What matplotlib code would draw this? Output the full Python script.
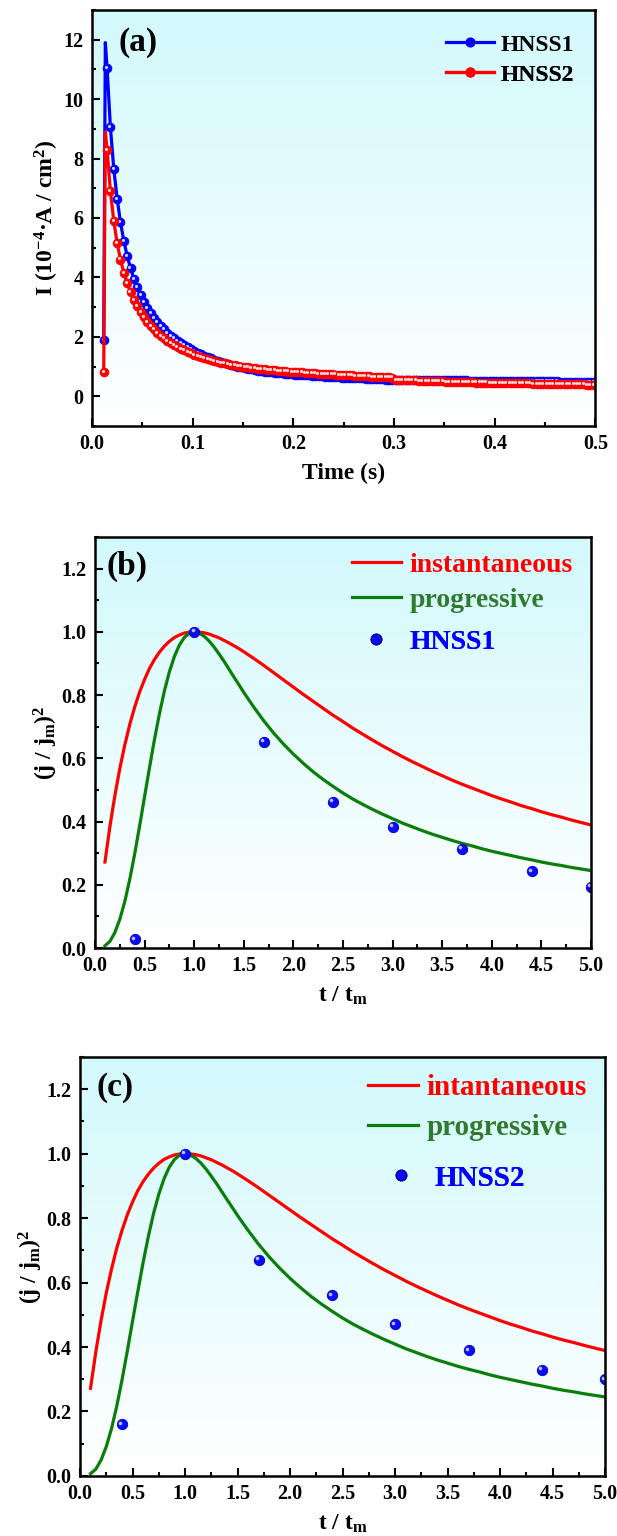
import numpy as np
import matplotlib
matplotlib.use('Agg')
import matplotlib.pyplot as plt
import matplotlib.transforms as mtransforms
from matplotlib.colors import LinearSegmentedColormap
from matplotlib.ticker import MultipleLocator
from matplotlib.lines import Line2D

plt.rcParams['font.family'] = ['Liberation Serif', 'DejaVu Serif']
plt.rcParams['font.weight'] = 'bold'
plt.rcParams['axes.labelweight'] = 'bold'
plt.rcParams['mathtext.fontset'] = 'custom'
plt.rcParams['mathtext.rm'] = 'Liberation Serif:bold'
plt.rcParams['mathtext.it'] = 'Liberation Serif:bold:italic'
plt.rcParams['mathtext.bf'] = 'Liberation Serif:bold'
plt.rcParams['mathtext.default'] = 'rm'

# ---- (a) chronoamperometry, sampled every 1/300 s ----
t_start = 0.0117
t_step = 1 / 300
i_hnss1 = [1.90, 11.05, 9.05, 7.65, 6.65, 5.85, 5.22, 4.72, 4.30, 3.95,
           3.66, 3.40, 3.18, 2.98, 2.80, 2.64, 2.50, 2.37, 2.25, 2.14,
           2.04, 1.95, 1.86, 1.78, 1.71, 1.64, 1.58, 1.52, 1.46, 1.41,
           1.36, 1.31, 1.27, 1.23, 1.19, 1.15, 1.11, 1.08, 1.05, 1.02,
           0.99, 0.97, 0.94, 0.92, 0.90, 0.88, 0.86, 0.85, 0.83, 0.82,
           0.80, 0.79, 0.78, 0.77, 0.76, 0.75, 0.74, 0.73, 0.72, 0.71,
           0.70, 0.70, 0.69, 0.68, 0.67, 0.67, 0.66, 0.65, 0.65, 0.64,
           0.64, 0.63, 0.63, 0.62, 0.61, 0.61, 0.60, 0.60, 0.59, 0.59,
           0.58, 0.58, 0.57, 0.57, 0.56, 0.56, 0.56, 0.54, 0.54, 0.54,
           0.54, 0.54, 0.54, 0.54, 0.54, 0.54, 0.54, 0.54, 0.54, 0.53,
           0.53, 0.53, 0.53, 0.53, 0.53, 0.53, 0.53, 0.53, 0.53, 0.52,
           0.52, 0.52, 0.52, 0.52, 0.52, 0.52, 0.52, 0.52, 0.51, 0.51,
           0.51, 0.51, 0.51, 0.51, 0.51, 0.51, 0.51, 0.50, 0.50, 0.50,
           0.50, 0.50, 0.50, 0.50, 0.50, 0.50, 0.49, 0.49, 0.49, 0.49,
           0.49, 0.49, 0.48, 0.48, 0.48, 0.48, 0.48]
i_hnss2 = [0.80, 8.30, 6.90, 5.90, 5.15, 4.60, 4.15, 3.80, 3.50, 3.24,
           3.02, 2.83, 2.66, 2.51, 2.37, 2.25, 2.14, 2.04, 1.95, 1.86,
           1.79, 1.72, 1.65, 1.59, 1.54, 1.49, 1.44, 1.40, 1.36, 1.32,
           1.28, 1.25, 1.22, 1.19, 1.16, 1.13, 1.11, 1.08, 1.06, 1.04,
           1.02, 1.00, 0.98, 0.97, 0.95, 0.94, 0.92, 0.91, 0.90, 0.89,
           0.88, 0.87, 0.86, 0.85, 0.84, 0.83, 0.82, 0.82, 0.81, 0.80,
           0.79, 0.78, 0.78, 0.77, 0.76, 0.76, 0.75, 0.74, 0.74, 0.73,
           0.72, 0.72, 0.71, 0.71, 0.70, 0.69, 0.69, 0.68, 0.68, 0.67,
           0.66, 0.66, 0.65, 0.65, 0.64, 0.64, 0.63, 0.55, 0.55, 0.54,
           0.54, 0.53, 0.53, 0.53, 0.52, 0.52, 0.52, 0.51, 0.51, 0.50,
           0.50, 0.50, 0.49, 0.49, 0.49, 0.48, 0.48, 0.48, 0.47, 0.47,
           0.47, 0.46, 0.46, 0.46, 0.46, 0.45, 0.45, 0.45, 0.45, 0.44,
           0.44, 0.44, 0.44, 0.43, 0.43, 0.43, 0.43, 0.43, 0.42, 0.42,
           0.42, 0.42, 0.42, 0.41, 0.41, 0.41, 0.41, 0.41, 0.40, 0.40,
           0.40, 0.40, 0.40, 0.40, 0.39, 0.39, 0.39]
# line overshoot right after the first point (no symbol there)
spike_t = 0.0133
spike_hnss1 = 11.9
spike_hnss2 = 8.9

# ---- (b), (c) Scharifker-Hills plots ----
tt_model = [0.10, 0.15, 0.20, 0.25, 0.30, 0.35, 0.40, 0.45, 0.50, 0.55,
            0.60, 0.65, 0.70, 0.75, 0.80, 0.85, 0.90, 0.95, 1.00, 1.05,
            1.10, 1.15, 1.20, 1.25, 1.30, 1.35, 1.40, 1.45, 1.50, 1.6,
            1.7, 1.8, 1.9, 2.0, 2.1, 2.2, 2.3, 2.4, 2.5, 2.6,
            2.7, 2.8, 2.9, 3.0, 3.1, 3.2, 3.3, 3.4, 3.5, 3.6,
            3.7, 3.8, 3.9, 4.0, 4.1, 4.2, 4.3, 4.4, 4.5, 4.6,
            4.7, 4.8, 4.9, 5.0]
instantaneous = [0.272, 0.384, 0.482, 0.568, 0.642, 0.707, 0.762, 0.810, 0.850, 0.885,
                 0.913, 0.936, 0.955, 0.970, 0.982, 0.990, 0.996, 0.999, 1.000, 0.999,
                 0.997, 0.993, 0.987, 0.981, 0.973, 0.965, 0.956, 0.947, 0.937, 0.916,
                 0.894, 0.871, 0.848, 0.825, 0.802, 0.780, 0.758, 0.736, 0.716, 0.695,
                 0.676, 0.657, 0.639, 0.622, 0.605, 0.589, 0.574, 0.559, 0.545, 0.531,
                 0.518, 0.506, 0.494, 0.482, 0.471, 0.461, 0.450, 0.441, 0.431, 0.422,
                 0.414, 0.405, 0.397, 0.389]
progressive = [0.007, 0.021, 0.049, 0.091, 0.147, 0.217, 0.298, 0.387, 0.480, 0.572,
               0.661, 0.742, 0.814, 0.874, 0.922, 0.958, 0.982, 0.996, 1.000, 0.996,
               0.986, 0.971, 0.952, 0.930, 0.907, 0.882, 0.857, 0.833, 0.808, 0.762,
               0.719, 0.680, 0.645, 0.613, 0.584, 0.557, 0.533, 0.511, 0.490, 0.471,
               0.454, 0.438, 0.423, 0.409, 0.395, 0.383, 0.371, 0.360, 0.350, 0.340,
               0.331, 0.323, 0.314, 0.306, 0.299, 0.292, 0.285, 0.279, 0.272, 0.266,
               0.261, 0.255, 0.250, 0.245]
tt_exp = [0.4, 1.0, 1.7, 2.4, 3.0, 3.7, 4.4, 5.0]
hnss1_exp = [0.027, 1.0, 0.653, 0.463, 0.384, 0.313, 0.243, 0.193]
hnss2_exp = [0.16, 1.0, 0.67, 0.56, 0.47, 0.39, 0.33, 0.30]

bg = LinearSegmentedColormap.from_list('bg', ['#ffffff', '#d2f9fc'])


def paint(ax):
    grad = np.linspace(1, 0, 256).reshape(-1, 1)
    ax.imshow(grad, cmap=bg, vmin=0, vmax=1, extent=(0, 1, 0, 1),
              transform=ax.transAxes, aspect='auto', zorder=0)


def style(ax):
    for sp in ax.spines.values():
        sp.set_linewidth(1.8)
        sp.set_zorder(10)
    ax.tick_params(which='both', direction='in', top=False, right=False,
                   width=1.5, labelsize=14.5, pad=6)
    ax.tick_params(which='major', length=6)
    ax.tick_params(which='minor', length=3)


def key(ax, handle, label, color, x, y, size, hl):
    leg = ax.legend([handle], [label], loc='center left', bbox_to_anchor=(x, y),
                    frameon=False, borderpad=0, borderaxespad=0, handlelength=hl,
                    handletextpad=0.3, fontsize=size, labelcolor=color)
    leg.set_zorder(20)
    ax.add_artist(leg)


fig = plt.figure(figsize=(6.17, 15.36), dpi=100)

# ---------------- (a) ----------------
ax = fig.add_axes([0.149, 0.7227, 0.816, 0.2708])
paint(ax)
t = t_start + t_step * np.arange(len(i_hnss1))
shine = mtransforms.offset_copy(ax.transData, fig=fig, x=-0.8, y=0.8, units='points')
for vals, spike, col, lite in [(i_hnss1, spike_hnss1, '#0000ff', '#d0d0ff'),
                               (i_hnss2, spike_hnss2, '#ff0000', '#ffd8d8')]:
    lt = np.insert(t, 1, spike_t)
    lv = np.insert(np.array(vals), 1, spike)
    ax.plot(lt, lv, color=col, lw=2.3, zorder=3)
    ax.plot(t, vals, ls='none', marker='o', ms=6.3, mfc=col, mec=col, mew=0.6, zorder=3)
    ax.plot(t, vals, ls='none', marker='o', ms=2.3, mfc=lite, mec='none',
            transform=shine, zorder=3)
ax.set_xlim(0, 0.5)
ax.set_ylim(-1, 13)
ax.xaxis.set_major_locator(MultipleLocator(0.1))
ax.xaxis.set_minor_locator(MultipleLocator(0.05))
ax.yaxis.set_major_locator(MultipleLocator(2))
ax.yaxis.set_minor_locator(MultipleLocator(1))
style(ax)
ax.set_xlabel('Time (s)', fontsize=17, labelpad=6)
ax.set_ylabel('I (10$^{-4}$·A / cm$^{2}$)', fontsize=17, labelpad=2)
ax.text(0.052, 0.923, '(a)', transform=ax.transAxes, fontsize=24,
        fontweight='bold', va='center', ha='left', zorder=20)
for lbl, col, y in [('HNSS1', '#0000ff', 0.916), ('HNSS2', '#ff0000', 0.844)]:
    h = Line2D([], [], color=col, lw=2.3, marker='o', ms=6.3, mfc=col, mec=col)
    key(ax, h, lbl, 'black', 0.704, y, 17, 2.0)

# ---------------- (b) and (c) ----------------
panels = [
    ([0.154, 0.3828, 0.804, 0.2676], '(b)', (0.024, 0.929), hnss1_exp, 'HNSS1',
     'instantaneous', 20, 0.518, [0.932, 0.847, 0.745], 1.76, 0.518),
    ([0.1297, 0.0391, 0.851, 0.2728], '(c)', (0.032, 0.928), hnss2_exp, 'HNSS2',
     'intantaneous', 21, 0.549, [0.926, 0.831, 0.711], 1.70, 0.564),
]
for rect, tag, tagpos, exp, name, inst_lbl, fs, kx, ky, hl, sx in panels:
    ax = fig.add_axes(rect)
    paint(ax)
    ax.plot(tt_model, instantaneous, color='#ff0000', lw=2.3, zorder=3)
    ax.plot(tt_model, progressive, color='#0a7d0a', lw=2.3, zorder=3)
    shine = mtransforms.offset_copy(ax.transData, fig=fig, x=-1.2, y=1.2, units='points')
    ax.plot(tt_exp, exp, ls='none', marker='o', ms=7.5, mfc='#0a0aff', mec='#0000b0',
            mew=0.6, zorder=4)
    ax.plot(tt_exp, exp, ls='none', marker='o', ms=2.6, mfc='#b8c0ff', mec='none',
            transform=shine, zorder=4)
    ax.set_xlim(0, 5)
    ax.set_ylim(0, 1.3)
    ax.xaxis.set_major_locator(MultipleLocator(0.5))
    ax.xaxis.set_minor_locator(MultipleLocator(0.25))
    ax.yaxis.set_minor_locator(MultipleLocator(0.1))
    ax.set_yticks([0, 0.2, 0.4, 0.6, 0.8, 1.0, 1.2])
    style(ax)
    ax.set_xlabel('t / t$_m$', fontsize=17, labelpad=6)
    ax.set_ylabel('(j / j$_m$)$^2$', fontsize=17, labelpad=1)
    ax.text(tagpos[0], tagpos[1], tag, transform=ax.transAxes, fontsize=24,
            fontweight='bold', va='center', ha='left', zorder=20)
    key(ax, Line2D([], [], color='#ff0000', lw=2.3), inst_lbl, '#ff0000',
        kx, ky[0], fs, hl)
    key(ax, Line2D([], [], color='#0a7d0a', lw=2.3), 'progressive', '#2f7a2f',
        kx, ky[1], fs, hl)
    hs = Line2D([], [], ls='none', marker='o', ms=7.5, mfc='#0a0aff', mec='#0000b0')
    key(ax, hs, name, '#0000ff', sx, ky[2], fs, hl)

fig.savefig('out.png', dpi=100)
